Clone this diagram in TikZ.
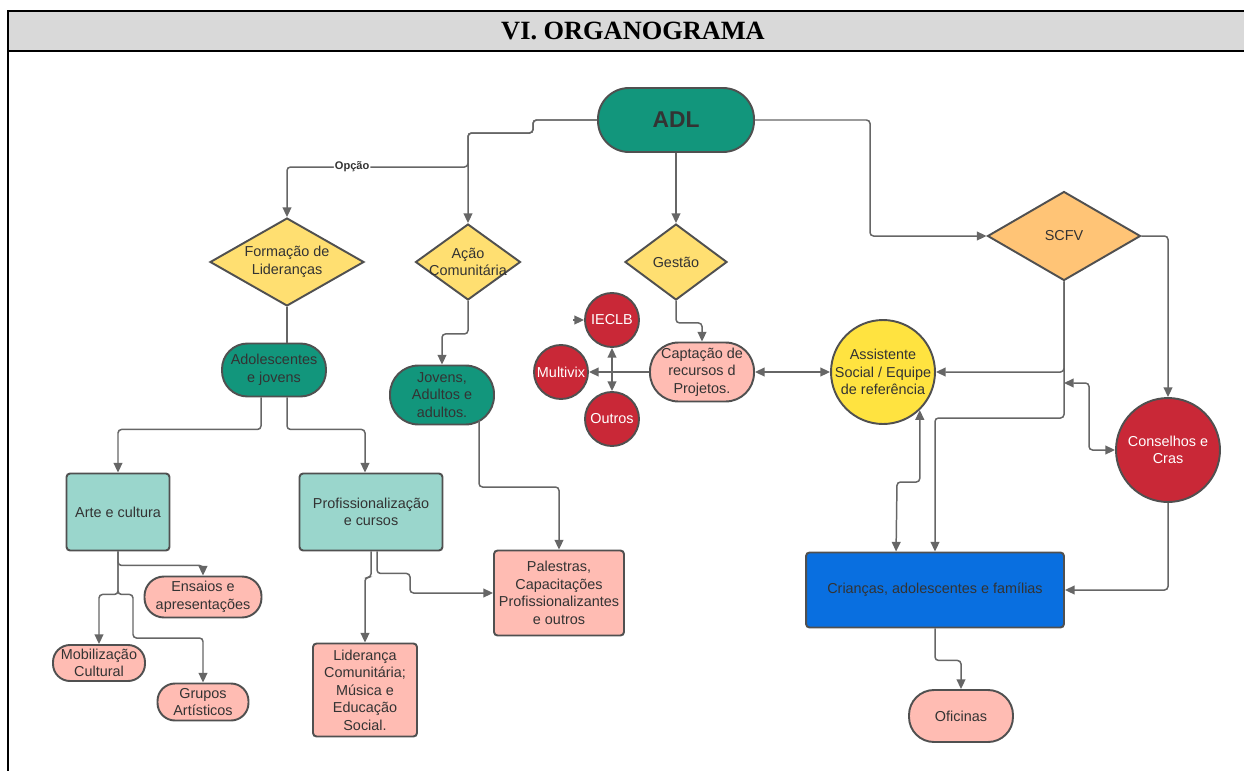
\documentclass[tikz,border=0pt]{standalone}
\usepackage{fontspec}
\setmainfont{Liberation Serif}
\setsansfont{Liberation Sans}
\usetikzlibrary{arrows.meta,calc,shapes.geometric}

\definecolor{adlteal}{RGB}{18,150,124}
\definecolor{lteal}{RGB}{154,214,204}
\definecolor{dyellow}{RGB}{255,223,113}
\definecolor{dorange}{RGB}{255,196,118}
\definecolor{salmon}{RGB}{255,188,179}
\definecolor{dred}{RGB}{201,40,55}
\definecolor{byellow}{RGB}{255,227,64}
\definecolor{dblue}{RGB}{9,111,224}
\definecolor{bordergray}{RGB}{80,80,80}
\definecolor{linegray}{RGB}{102,102,102}
\definecolor{textgray}{RGB}{51,51,51}
\definecolor{hdrgray}{RGB}{217,217,217}

\tikzset{
	txt/.style={text=textgray, font=\sffamily\fontsize{8.2}{10}\selectfont, align=center},
	box/.style={txt, draw=bordergray, line width=1.1pt, inner sep=0pt},
	pill/.style={box, rectangle, rounded corners=#1},
	rbox/.style={box, rectangle, rounded corners=2pt},
	dmd/.style={box, diamond},
	circ/.style={box, circle},
	link/.style={draw=linegray, line width=0.85pt, rounded corners=2pt, ->},
	link2/.style={link, <->},
	plain/.style={draw=linegray, line width=0.85pt, rounded corners=2pt},
	opcao/.style={text=textgray, font=\sffamily\bfseries\fontsize{6.3}{7}\selectfont, fill=white, inner sep=0.6pt},
}

\begin{document}
\begin{tikzpicture}[x=0.02cm, y=-0.02cm, >={Triangle[length=5.5pt,width=5pt]}]
	%%%%% START %%%%%
	\useasboundingbox (0,0) rectangle (1244,771);
	
	\fill[hdrgray] (8,11) rectangle (1244,51);
	\draw[line width=1.6pt] (1244,11) -- (8,11) -- (8,771);
	\draw[line width=1.6pt] (8,51) -- (1244,51);
	\node[font=\bfseries\fontsize{15}{18}\selectfont] (titulo) at (633,31) {VI. ORGANOGRAMA};
	
	% top level
	\node[pill=0.62cm, fill=adlteal, minimum width=3.12cm, minimum height=1.28cm, font=\sffamily\bfseries\fontsize{13}{15}\selectfont] (adl) at (676,120) {ADL};
	
	\node[dmd, fill=dyellow, minimum width=3.08cm, minimum height=1.76cm, label={[txt]center:Formação de\\Lideranças}] (formacao) at (287,262) {};
	\node[dmd, fill=dyellow, minimum width=2.1cm, minimum height=1.52cm, label={[txt]center:Ação\\Comunitária}] (acao) at (468,262) {};
	\node[dmd, fill=dyellow, minimum width=2.04cm, minimum height=1.52cm, label={[txt]center:Gestão}] (gestao) at (676,262) {};
	\node[dmd, fill=dorange, minimum width=3.06cm, minimum height=1.78cm, label={[txt]center:SCFV}] (scfv) at (1064,236) {};
	
	% left branch
	\node[pill=0.51cm, fill=adlteal, minimum width=2.08cm, minimum height=1.06cm] (adol) at (274,370) {Adolescentes\\e jovens};
	\node[pill=0.57cm, fill=adlteal, minimum width=2.08cm, minimum height=1.18cm] (jovens) at (442,395) {Jovens,\\Adultos e\\adultos.};
	\node[rbox, fill=lteal, minimum width=2.06cm, minimum height=1.54cm] (arte) at (118,512) {Arte e cultura};
	\node[rbox, fill=lteal, minimum width=2.86cm, minimum height=1.54cm] (prof) at (371,512) {Profissionalização\\e cursos};
	\node[pill=0.39cm, fill=salmon, minimum width=2.34cm, minimum height=0.82cm] (ensaios) at (203,597) {Ensaios e\\apresentações};
	\node[pill=0.34cm, fill=salmon, minimum width=1.84cm, minimum height=0.72cm] (mobil) at (99,663) {Mobilização\\Cultural};
	\node[pill=0.35cm, fill=salmon, minimum width=1.82cm, minimum height=0.74cm] (grupos) at (203,702) {Grupos\\Artísticos};
	\node[rbox, fill=salmon, minimum width=2.08cm, minimum height=1.86cm] (lider) at (365,690) {Liderança\\Comunitária;\\Música e\\Educação\\Social.};
	\node[rbox, fill=salmon, minimum width=2.6cm, minimum height=1.7cm] (palestras) at (559,593) {Palestras,\\Capacitações\\Profissionalizantes\\e outros};
	
	% gestao
	\node[circ, fill=dred, text=white, minimum size=1.08cm] (ieclb) at (612,320) {IECLB};
	\node[circ, fill=dred, text=white, minimum size=1.08cm] (multivix) at (561,372) {Multivix};
	\node[circ, fill=dred, text=white, minimum size=1.08cm] (outros) at (612,419) {Outros};
	\node[pill=0.57cm, fill=salmon, minimum width=2.08cm, minimum height=1.18cm] (captacao) at (702,372) {Captação de\\recursos d\\Projetos.};
	
	% scfv
	\node[circ, fill=byellow, minimum size=2.08cm, label={[txt]center:Assistente\\Social / Equipe\\de referência}] (assist) at (883,372) {};
	\node[circ, fill=dred, text=white, minimum size=2.08cm] (conselhos) at (1168,450) {Conselhos e\\Cras};
	\node[rbox, fill=dblue, minimum width=5.16cm, minimum height=1.5cm] (criancas) at (935,590) {Crianças, adolescentes e famílias};
	\node[pill=0.5cm, fill=salmon, minimum width=2.08cm, minimum height=1.04cm] (oficinas) at (961,716) {Oficinas};
	
	\coordinate (sIeclb) at (573,320);
	\coordinate (jcons) at (1064,383);
	
	% connectors
	\draw[link] (adl.west) -| (533,133) -| (acao.north);
	\draw[link] (adl.west) -| (533,133) -| (468,167) -| node[opcao, pos=0.32] (opc) {Opção} (formacao.north);
	\draw[link] (adl.south) -- (gestao.north);
	\draw[link] (adl.east) -| (870,236) -- (scfv.west);
	
	\draw[plain] (formacao.south) -- (formacao.south |- adol.north);
	\draw[link] (acao.south) -- ++(0,33) -| (jovens.north);
	\draw[link] ($(adol.south)+(-13,0)$) -- ++(0,32) -| (arte.north);
	\draw[link] ($(adol.south)+(13,0)$) -- ++(0,32) -| ($(prof.north)+(-6,0)$);
	\draw[link] ($(jovens.center)+(37,25)$) -- ++(0,67) -| (palestras.north);
	
	\draw[link] (arte.south) -- ++(0,14) -| (ensaios.north);
	\draw[link] (arte.south) -- ++(0,43) -| (mobil.north);
	\draw[link] (arte.south) -- ++(0,43) -| (133,638) -| (grupos.north);
	\draw[link] (prof.south) -- ++(0,26) -| (lider.north);
	\draw[link] ($(prof.south)+(6,0)$) -- ++(0,22) -| (410,593) -- (palestras.west);
	
	\draw[link] (gestao.south) -- ++(0,22) -| (captacao.north);
	\draw[link] (captacao.west) -- (multivix.east);
	\draw[link2] (ieclb.south) -- (outros.north);
	\draw[link] (sIeclb) -- (ieclb.west);
	\draw[link2] (captacao.east) -- (assist.west);
	
	\draw[link] (scfv.east) -| (conselhos.north);
	\draw[link] (scfv.south) |- (assist.east);
	\draw[link] (scfv.south) -- (1064,418) -| (criancas.north);
	\draw[link2] (jcons) -| (1089,450) -- (conselhos.west);
	\draw[link] (conselhos.south) |- (criancas.east);
	\draw[link2] (assist.-46) |- (897,482) -- ($(criancas.north west)+(91,0)$);
	\draw[link] (criancas.south) -- ++(0,32) -| (oficinas.north);
	
	%%%%% END %%%%%
\end{tikzpicture}
\end{document}
